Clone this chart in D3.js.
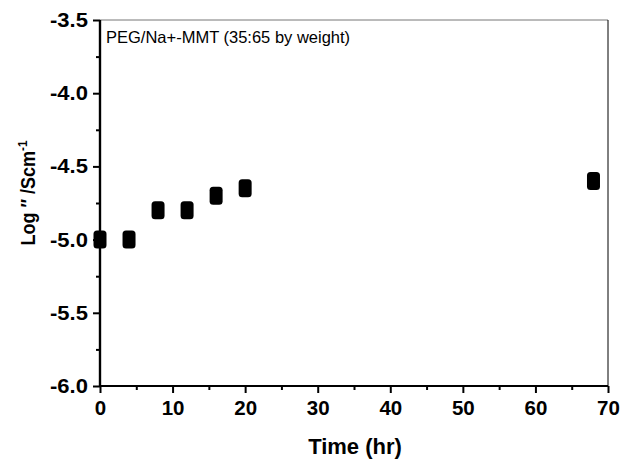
<!DOCTYPE html>
<html><head><meta charset="utf-8">
<script src="https://cdn.jsdelivr.net/npm/d3@7"></script>
<style>body{margin:0;background:#fff}svg{display:block}text{font-family:Arial,"Liberation Sans",sans-serif}</style>
</head><body>
<script>
const timeHr = [0, 4, 8, 12, 16, 20, 68];
const logSigma = [-5.0, -5.0, -4.8, -4.8, -4.7, -4.65, -4.6];
const xTicks = [0, 10, 20, 30, 40, 50, 60, 70];
const xMinor = [5, 15, 25, 35, 45, 55, 65];
const yTicks = [-3.5, -4.0, -4.5, -5.0, -5.5, -6.0];
const yMinor = [-3.75, -4.25, -4.75, -5.25, -5.75];
const legendText = "PEG/Na+-MMT (35:65 by weight)";

const W = 623, H = 459;
const m = {l: 100, r: 15, t: 20, b: 73};
const svg = d3.select("body").append("svg").attr("width", W).attr("height", H);
const x = d3.scaleLinear().domain([0, 70]).range([m.l, W - m.r]);
const y = d3.scaleLinear().domain([-6.0, -3.5]).range([H - m.b, m.t]);

// frame top and right
svg.append("line").attr("x1", x(0)).attr("x2", x(70)).attr("y1", y(-3.5)).attr("y2", y(-3.5)).attr("stroke", "#777").attr("stroke-width", 1);
svg.append("line").attr("x1", x(70)).attr("x2", x(70)).attr("y1", y(-3.5)).attr("y2", y(-6)).attr("stroke", "#000").attr("stroke-width", 1);

const yFmt = d => d3.format(".1f")(d).replace("\u2212", "-");

// x axis
const gx = svg.append("g").attr("transform", `translate(0,${y(-6)})`)
  .call(d3.axisBottom(x).tickValues(xTicks).tickSize(7).tickPadding(7).tickFormat(d3.format("d")));
gx.append("g").call(d3.axisBottom(x).tickValues(xMinor).tickSize(4).tickFormat(""));
// y axis
const gy = svg.append("g").attr("transform", `translate(${x(0)},0)`)
  .call(d3.axisLeft(y).tickValues(yTicks).tickSize(7).tickPadding(4).tickFormat(yFmt));
gy.append("g").call(d3.axisLeft(y).tickValues(yMinor).tickSize(4).tickFormat(""));

svg.selectAll(".domain").attr("stroke", "#000").attr("stroke-width", 2.2);
svg.selectAll(".tick line").attr("stroke", "#000").attr("stroke-width", 2);
svg.selectAll(".tick text").attr("font-size", 20).attr("font-weight", "bold").attr("fill", "#000")
  .attr("font-family", "Arial, 'Liberation Sans', sans-serif");
gy.selectAll(".tick text").attr("transform", "scale(1.1,1)");
gx.selectAll(".tick text").attr("font-size", 20.5);
gy.selectAll(".domain").attr("d", `M0,${y(-3.5)}V${y(-6)}`);
gx.selectAll(".domain").attr("d", `M${x(0)},0H${x(70)}`);

// points
svg.append("g").selectAll("rect").data(timeHr.map((t, i) => [t, logSigma[i]])).join("rect")
  .attr("x", d => x(d[0]) - 6.5).attr("y", d => y(d[1]) - 9)
  .attr("width", 13).attr("height", 18).attr("rx", 3.5).attr("ry", 3.5).attr("fill", "#000");

// legend text
svg.append("text").attr("x", 106).attr("y", 43).attr("font-size", 16.5).text(legendText);

// axis titles
svg.append("text").attr("x", 355).attr("y", 454).attr("text-anchor", "middle")
  .attr("font-size", 22).attr("font-weight", "bold").text("Time (hr)");
const yl = svg.append("text").attr("transform", `translate(35,193) rotate(-90) scale(0.9,1)`)
  .attr("text-anchor", "middle").attr("font-size", 20).attr("font-weight", "bold");
yl.append("tspan").text("Log \u2033 /Scm");
yl.append("tspan").attr("dy", -8).attr("font-size", 13).text("-1");
</script>
</body></html>
